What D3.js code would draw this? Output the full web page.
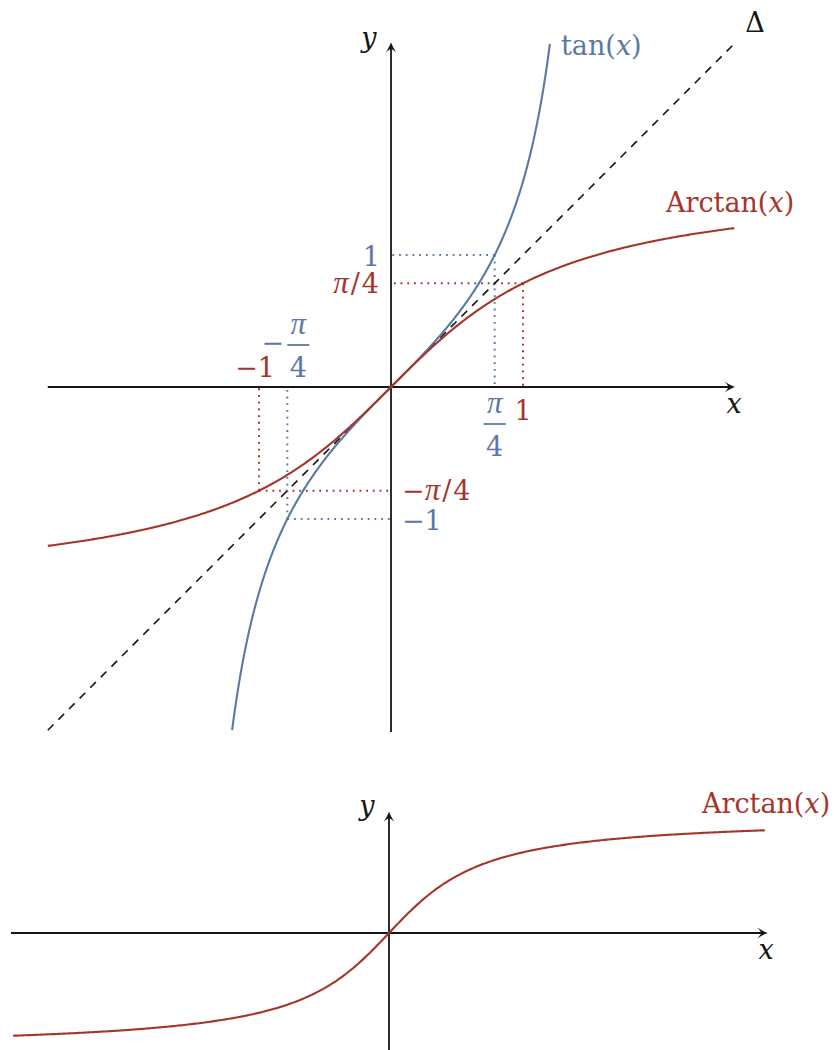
<!DOCTYPE html>
<html>
<head>
<meta charset="utf-8">
<script src="https://cdn.jsdelivr.net/npm/d3@7"></script>
<style>
  html, body { margin: 0; padding: 0; background: #fff; }
  svg { display: block; }
  text { font-family: "DejaVu Serif", "Liberation Serif", serif; font-size: 27px; }
  .it { font-style: italic; }
  .pi { font-family: "Liberation Serif", serif; font-style: italic; font-size: 31px; }
</style>
</head>
<body>
<svg id="chart" width="834" height="1050"></svg>
<script>
// ---- values ----
const topRange = [-2.6, 2.6];                       // both axes of the upper plot
const tanDomain = [-Math.atan(2.6), Math.atan(2.6)]; // tan drawn until it leaves the frame
const atanDomain = [-2.6, 2.6];
const bottomXRange = [-5.4, 5.4];
const bottomYRange = [-1.62, 1.62];
const bottomAtanDomain = [-5.37, 5.37];
// guide points: [x, y] on each curve
const tanGuides = [[Math.PI / 4, 1], [-Math.PI / 4, -1]];
const atanGuides = [[1, Math.PI / 4], [-1, -Math.PI / 4]];
const SAMPLES = 400;

const RED = "#a5352b", BLUE = "#5a7aa4", INK = "#151515";

const svg = d3.select("#chart");

// ---- scales ----
const x = d3.scaleLinear().domain(topRange).range([47.8, 734.2]);
const y = d3.scaleLinear().domain(topRange).range([730.2, 43.8]);
const xb = d3.scaleLinear().domain(bottomXRange).range([11, 767]);
const yb = d3.scaleLinear().domain(bottomYRange).range([1053, 813]);

function sample(f, dom) {
  return d3.range(SAMPLES + 1).map(i => {
    const t = dom[0] + (dom[1] - dom[0]) * i / SAMPLES;
    return [t, f(t)];
  });
}

function arrowHead(g, tx, ty, angle) {
  g.append("path")
    .attr("d", "M0,0 Q-4,-1.3 -10.5,-5.4 Q-6.8,-1.6 -6.8,0 Q-6.8,1.6 -10.5,5.4 Q-4,1.3 0,0 Z")
    .attr("fill", INK)
    .attr("transform", `translate(${tx},${ty}) rotate(${angle})`);
}

function axes(g, xs, ys, xr, yr, yBottomPx) {
  g.append("line").attr("x1", xs(xr[0])).attr("x2", xs(xr[1]) - 3)
    .attr("y1", ys(0)).attr("y2", ys(0))
    .attr("stroke", INK).attr("stroke-width", 1.8);
  arrowHead(g, xs(xr[1]) + 0.8, ys(0), 0);
  g.append("line").attr("x1", xs(0)).attr("x2", xs(0))
    .attr("y1", yBottomPx).attr("y2", ys(yr[1]) + 3)
    .attr("stroke", INK).attr("stroke-width", 1.8);
  arrowHead(g, xs(0), ys(yr[1]) - 1.5, -90);
}

// parts: {t: text, i: italic, p: pi glyph, dx: extra spacing}
function label(g, tx, ty, anchor, color, parts) {
  const t = g.append("text").attr("x", tx).attr("y", ty)
    .attr("text-anchor", anchor).attr("fill", color);
  parts.forEach(p => {
    const s = t.append("tspan").text(p.t);
    if (p.i) s.attr("class", "it");
    if (p.p) s.attr("class", "pi");
    if (p.dx) s.attr("dx", p.dx);
  });
  return t;
}
const PI_OVER_4 = [{t: "π", p: 1}, {t: "/", dx: 2}, {t: "4", dx: 2}];

// ================= upper plot =================
const upper = svg.append("g");

// dotted guides from each curve point to both axes
function guides(pts, color) {
  pts.forEach(([gx, gy]) => {
    upper.append("line")
      .attr("x1", x(gx)).attr("y1", y(gy)).attr("x2", x(0)).attr("y2", y(gy))
      .attr("stroke", color).attr("stroke-width", 2).attr("stroke-dasharray", "1.8,4.9");
    upper.append("line")
      .attr("x1", x(gx)).attr("y1", y(gy)).attr("x2", x(gx)).attr("y2", y(0))
      .attr("stroke", color).attr("stroke-width", 2).attr("stroke-dasharray", "1.8,4.9");
  });
}
guides(tanGuides, BLUE);
guides(atanGuides, RED);

axes(upper, x, y, topRange, topRange, 732);

// diagonal y = x
upper.append("line")
  .attr("x1", x(topRange[0])).attr("y1", y(topRange[0]))
  .attr("x2", x(topRange[1])).attr("y2", y(topRange[1]))
  .attr("stroke", INK).attr("stroke-width", 1.6).attr("stroke-dasharray", "8,7");

const line = d3.line().x(d => x(d[0])).y(d => y(d[1]));
upper.append("path").datum(sample(Math.tan, tanDomain))
  .attr("d", line).attr("fill", "none").attr("stroke", BLUE).attr("stroke-width", 2.1);
upper.append("path").datum(sample(Math.atan, atanDomain))
  .attr("d", line).attr("fill", "none").attr("stroke", RED).attr("stroke-width", 2.1);

label(upper, 369, 47, "middle", INK, [{t: "y", i: 1}]);
label(upper, 734, 413, "middle", INK, [{t: "x", i: 1}]);
label(upper, 755, 32, "middle", INK, [{t: "Δ"}]);
label(upper, 561, 55, "start", BLUE, [{t: "tan("}, {t: "x", i: 1}, {t: ")"}]);
label(upper, 666, 212, "start", RED, [{t: "Arctan("}, {t: "x", i: 1}, {t: ")"}]);

label(upper, 380, 266, "end", BLUE, [{t: "1"}]);
label(upper, 379, 293, "end", RED, PI_OVER_4);
label(upper, 402, 500, "start", RED, [{t: "−"}].concat(PI_OVER_4));
label(upper, 402, 530, "start", BLUE, [{t: "−1"}]);
label(upper, 275, 377, "end", RED, [{t: "−1"}]);
label(upper, 523, 420, "middle", RED, [{t: "1"}]);

// stacked fractions π over 4
function frac(g, cx, barY, color) {
  label(g, cx, barY - 11, "middle", color, [{t: "π", p: 1}]);
  g.append("line").attr("x1", cx - 11).attr("x2", cx + 11)
    .attr("y1", barY).attr("y2", barY).attr("stroke", color).attr("stroke-width", 1.8);
  label(g, cx, barY + 32, "middle", color, [{t: "4"}]);
}
frac(upper, x(Math.PI / 4), 424, BLUE);
frac(upper, x(-Math.PI / 4) + 11, 345, BLUE);
label(upper, 284, 352, "end", BLUE, [{t: "−"}]);

// ================= lower plot =================
const lower = svg.append("g");
axes(lower, xb, yb, bottomXRange, bottomYRange, 1050);
const lineB = d3.line().x(d => xb(d[0])).y(d => yb(d[1]));
lower.append("path").datum(sample(Math.atan, bottomAtanDomain))
  .attr("d", lineB).attr("fill", "none").attr("stroke", RED).attr("stroke-width", 2.1);
label(lower, 367, 815, "middle", INK, [{t: "y", i: 1}]);
label(lower, 766, 959, "middle", INK, [{t: "x", i: 1}]);
label(lower, 702, 813, "start", RED, [{t: "Arctan("}, {t: "x", i: 1}, {t: ")"}]);
</script>
</body>
</html>
